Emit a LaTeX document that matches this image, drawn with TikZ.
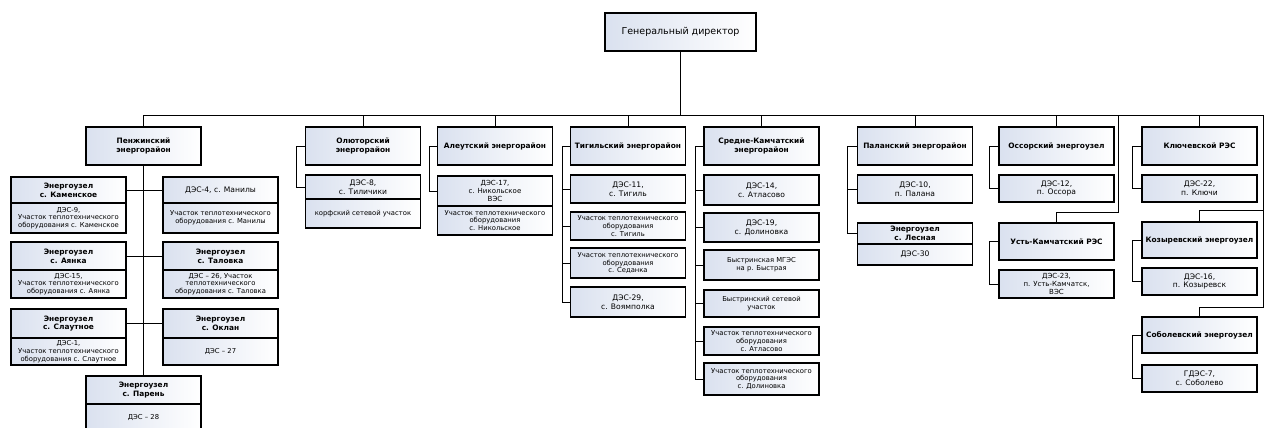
\documentclass[tikz,border=0pt]{standalone}
\usepackage{fontspec}
\setmainfont{DejaVu Sans}
\definecolor{boxl}{RGB}{218,225,239}
\newcommand{\hdrfont}{\fontsize{7.4}{8.7}\selectfont\bfseries}
\newcommand{\desfont}{\fontsize{7.6}{8.9}\selectfont}
\newcommand{\smlfont}{\fontsize{6.8}{7.7}\selectfont}

\begin{document}
\begin{tikzpicture}[x=1pt,y=-1pt,
    box/.style={draw,line width=1.1pt,left color=boxl,right color=white,
        align=center,inner sep=1pt,outer sep=0pt,minimum width=115pt},
    hdr/.style={box,font=\hdrfont,minimum height=38pt},
    uzel/.style={box,font=\hdrfont},
    des/.style={box,font=\desfont},
    sml/.style={box,font=\smlfont},
    gdbox/.style={box,line width=2.4pt,font=\fontsize{9.5}{11}\selectfont,
        minimum width=151pt,minimum height=38pt},
    link/.style={draw,line width=0.8pt}]
    \useasboundingbox (0,0) rectangle (1277,428);
    \fill[white] (0,0) rectangle (1277,428);

    \node[gdbox] (gd) at (680.5,32) {Генеральный директор};

    \node[hdr] (pen) at (143.5,146) {Пенжинский\\энергорайон};
    \node[hdr] (olu) at (363,146) {Олюторский\\энергорайон};
    \node[hdr] (ale) at (495,146) {Алеутский энергорайон};
    \node[hdr] (tig) at (628,146) {Тигильский энергорайон};
    \node[hdr] (sre) at (761.5,146) {Средне-Камчатский\\энергорайон};
    \node[hdr] (pal) at (915,146) {Паланский энергорайон};
    \node[hdr] (oss) at (1056.5,146) {Оссорский энергоузел};
    \node[hdr] (klu) at (1199.5,146) {Ключевской РЭС};

    \node[uzel,minimum height=26] (kam) at (68.5,190) {Энергоузел\\с. Каменское};
    \node[sml,anchor=north,minimum height=30] (kam-d) at (kam.south) {ДЭС-9,\\Участок теплотехнического\\оборудования с. Каменское};
    \node[des,minimum height=26] (man) at (220.5,190) {ДЭС-4, с. Манилы};
    \node[sml,anchor=north,minimum height=30] (man-d) at (man.south) {Участок теплотехнического\\оборудования с. Манилы};
    \node[uzel,minimum height=28] (aya) at (68.5,256) {Энергоузел\\с. Аянка};
    \node[sml,anchor=north,minimum height=28] (aya-d) at (aya.south) {ДЭС-15,\\Участок теплотехнического\\оборудования с. Аянка};
    \node[uzel,minimum height=28] (tal) at (220.5,256) {Энергоузел\\с. Таловка};
    \node[sml,anchor=north,minimum height=28] (tal-d) at (tal.south) {ДЭС – 26, Участок\\теплотехнического\\оборудования с. Таловка};
    \node[uzel,minimum height=29] (sla) at (68.5,323.5) {Энергоузел\\с. Слаутное};
    \node[sml,anchor=north,minimum height=27] (sla-d) at (sla.south) {ДЭС-1,\\Участок теплотехнического\\оборудования с. Слаутное};
    \node[uzel,minimum height=29] (okl) at (220.5,323.5) {Энергоузел\\с. Оклан};
    \node[sml,anchor=north,minimum height=27] (okl-d) at (okl.south) {ДЭС – 27};
    \node[uzel,minimum height=28] (par) at (143.5,390) {Энергоузел\\с. Парень};
    \node[sml,anchor=north,minimum height=28] (par-d) at (par.south) {ДЭС – 28};

    \node[des,minimum height=24] (d8) at (363,187) {ДЭС-8,\\с. Тиличики};
    \node[sml,anchor=north,minimum height=29] (d8-d) at (d8.south) {корфский сетевой участок};

    \node[box,font=\fontsize{7}{8}\selectfont,minimum height=30] (d17) at (495,191) {ДЭС-17,\\с. Никольское\\ВЭС};
    \node[sml,anchor=north,minimum height=29] (d17-d) at (d17.south) {Участок теплотехнического\\оборудования\\с. Никольское};

    \node[des,minimum height=28] (t11) at (628,189) {ДЭС-11,\\с. Тигиль};
    \node[sml,minimum height=28] (tut) at (628,226) {Участок теплотехнического\\оборудования\\с. Тигиль};
    \node[sml,minimum height=30] (tus) at (628,263) {Участок теплотехнического\\оборудования\\с. Седанка};
    \node[des,minimum height=30] (t29) at (628,302) {ДЭС-29,\\с. Воямполка};

    \node[des,minimum height=30] (s14) at (761.5,190) {ДЭС-14,\\с. Атласово};
    \node[des,minimum height=29] (s19) at (761.5,227.5) {ДЭС-19,\\с. Долиновка};
    \node[sml,minimum height=30] (smg) at (761.5,265) {Быстринская МГЭС\\на р. Быстрая};
    \node[sml,minimum height=27] (sbs) at (761.5,303.5) {Быстринский сетевой\\участок};
    \node[sml,minimum height=28] (sua) at (761.5,341) {Участок теплотехнического\\оборудования\\с. Атласово};
    \node[sml,minimum height=32] (sud) at (761.5,379) {Участок теплотехнического\\оборудования\\с. Долиновка};

    \node[des,minimum height=28] (p10) at (915,189) {ДЭС-10,\\п. Палана};
    \node[uzel,minimum height=21] (les) at (915,233.5) {Энергоузел\\с. Лесная};
    \node[des,anchor=north,minimum height=21] (les-d) at (les.south) {ДЭС-30};

    \node[des,minimum height=27] (o12) at (1056.5,188.5) {ДЭС-12,\\п. Оссора};
    \node[hdr,minimum height=37] (ust) at (1056.5,241.5) {Усть-Камчатский РЭС};
    \node[box,font=\fontsize{7}{7.8}\selectfont,minimum height=28] (u23) at (1056.5,284) {ДЭС-23,\\п. Усть-Камчатск,\\ВЭС};

    \node[des,minimum height=27] (k22) at (1199.5,188.5) {ДЭС-22,\\п. Ключи};
    \node[hdr,minimum height=36] (koz) at (1199.5,240) {Козыревский энергоузел};
    \node[des,minimum height=27] (k16) at (1199.5,281.5) {ДЭС-16,\\п. Козыревск};
    \node[hdr,minimum height=36] (sob) at (1199.5,335) {Соболевский энергоузел};
    \node[des,minimum height=27] (g7) at (1199.5,378.5) {ГДЭС-7,\\с. Соболево};

    \coordinate (bar) at (680.5,115);
    \coordinate (ossr) at (1118,212);
    \coordinate (klur) at (1263,210);
    \coordinate (klus) at (1263,307);
    \draw[link] (gd.south) -- (bar);
    \foreach \n in {pen,olu,ale,tig,sre,pal,oss,klu}
        \draw[link] (bar) -| (\n.north);
    \draw[link] (bar) -| (ossr) -| (ust.north);
    \draw[link] (bar) -| (klur) -| (koz.north);
    \draw[link] (klur) -- (klus) -| (sob.north);

    \draw[link] (pen.south) -- (par.north);
    \draw[link] (kam.east) -- (man.west);
    \draw[link] (aya.east) -- (tal.west);
    \draw[link] (sla.east) -- (okl.west);

    \draw[link] (olu.west) -- ++(-9,0) |- (d8.west);
    \draw[link] (ale.west) -- ++(-8,0) |- (d17.west);
    \draw[link] (tig.west) -- ++(-8,0) coordinate (tigl) |- (t29.west);
    \foreach \n in {t11,tut,tus}
        \draw[link] (tigl) |- (\n.west);
    \draw[link] (sre.west) -- ++(-9,0) coordinate (srel) |- (sud.west);
    \foreach \n in {s14,s19,smg,sbs,sua}
        \draw[link] (srel) |- (\n.west);
    \draw[link] (pal.west) -- ++(-10,0) coordinate (pall) |- (les.west);
    \draw[link] (pall) |- (p10.west);
    \draw[link] (oss.west) -- ++(-10,0) |- (o12.west);
    \draw[link] (ust.west) -- ++(-10,0) |- (u23.west);
    \draw[link] (klu.west) -- ++(-10,0) |- (k22.west);
    \draw[link] (koz.west) -- ++(-10,0) |- (k16.west);
    \draw[link] (sob.west) -- ++(-10,0) |- (g7.west);
\end{tikzpicture}
\end{document}
